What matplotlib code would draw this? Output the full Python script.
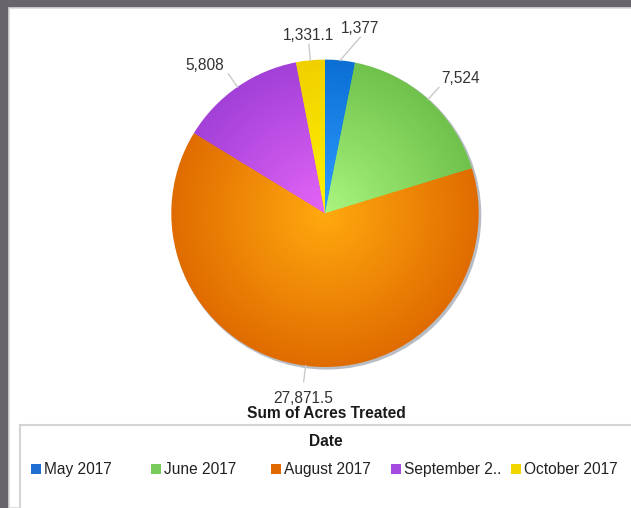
import numpy as np
import matplotlib.pyplot as plt
from matplotlib.patches import Rectangle, Circle
from matplotlib.colors import to_rgb

# Dados do gráfico
meses = ["May 2017", "June 2017", "August 2017", "September 2..", "October 2017"]
acres = [1377, 7524, 27871.5, 5808, 1331.1]
rotulos = ["1,377", "7,524", "27,871.5", "5,808", "1,331.1"]

# Cores: borda, centro (gradiente radial) e legenda
cor_borda = ["#0b6fd4", "#70c24c", "#e06c00", "#a240d8", "#f0d000"]
cor_centro = ["#2f9dff", "#a8f47e", "#ffa80e", "#e464f6", "#fff200"]
cor_legenda = ["#1f6fd0", "#77cc5a", "#e06a00", "#a64be0", "#f2d600"]

W, H = 631, 508
fig = plt.figure(figsize=(W / 100, H / 100), dpi=100, facecolor="#67646b")
ax = fig.add_axes([0, 0, 1, 1])
plt.rcParams['font.family'] = ['Liberation Sans', 'DejaVu Sans']

# Coordenadas em pixels (y para cima)
cx, cy, R = 325, H - 213.3, 153.7

# painel branco
ax.add_patch(Rectangle((9, 0), W, H - 8, facecolor="white", edgecolor="#d9d9d9", lw=1.2, zorder=0))

# sombra da pizza
ax.add_patch(Circle((cx + 1.8, cy - 1.8), R + 0.8, facecolor="#b8bcc4", edgecolor="none", zorder=1))

# gradiente radial: várias camadas de pizza concêntricas
n_camadas = 40
for i in range(n_camadas):
    t = i / (n_camadas - 1)
    raio = R * (1 - t * 0.97)
    cores = [tuple((1 - t) * np.array(to_rgb(b)) + t * np.array(to_rgb(c)))
             for b, c in zip(cor_borda, cor_centro)]
    wedges, _ = ax.pie(acres, colors=cores, startangle=90, counterclock=False,
                       center=(cx, cy), radius=raio, frame=True,
                       wedgeprops=dict(linewidth=0, antialiased=True))
    for w in wedges:
        w.set_zorder(2 + i)

# rótulos com linhas de chamada
total = sum(acres)
angulo = 90.0
ajuste = {0: (-5.7, 10)}  # fatia pequena empurrada para não sobrepor
for k, (v, txt) in enumerate(zip(acres, rotulos)):
    frac = v / total * 360
    meio = angulo - frac / 2
    angulo -= frac
    a0 = np.radians(meio)
    da, dr = ajuste.get(k, (0, 0))
    a1 = np.radians(meio + da)
    x0, y0 = cx + R * np.cos(a0), cy + R * np.sin(a0)
    r1 = R + 16 + dr
    x1, y1 = cx + r1 * np.cos(a1), cy + r1 * np.sin(a1)
    ax.plot([x0, x1], [y0, y1], color="#c9c9c9", lw=1, zorder=60)
    c, s = np.cos(a1), np.sin(a1)
    ha = "center" if abs(c) < 0.3 else ("left" if c > 0 else "right")
    va = "bottom" if s > 0 else "top"
    ox = 0 if ha == "center" else (2 if ha == "left" else -4)
    oy = 1 if va == "bottom" else -9
    ax.text(x1 + ox, y1 + oy, txt, ha=ha, va=va, fontsize=11.2, color="#333333", zorder=61)

# título do eixo
ax.text(326, H - 413, "Sum of Acres Treated", ha="center", va="center",
        fontsize=11.2, fontweight="bold", color="#1a1a1a")

# caixa da legenda
ax.add_patch(Rectangle((20, -5), W, H - 425 + 5, facecolor="white", edgecolor="#d4d4d4", lw=1.5, zorder=1))
ax.text(326, H - 442, "Date", ha="center", va="center", fontsize=11.2,
        fontweight="bold", color="#1a1a1a", zorder=3)
for i, (m, cor) in enumerate(zip(meses, cor_legenda)):
    x = 30.5 + i * 120
    ax.add_patch(Rectangle((x, H - 474), 10, 10, facecolor=cor, edgecolor="none", zorder=3))
    ax.text(x + 13, H - 474, m, ha="left", va="baseline", fontsize=11.2, color="#222222", zorder=3)

ax.set_xlim(0, W)
ax.set_ylim(0, H)
ax.set_aspect("auto")
ax.axis("off")

plt.savefig("out.png", dpi=100, facecolor=fig.get_facecolor())
